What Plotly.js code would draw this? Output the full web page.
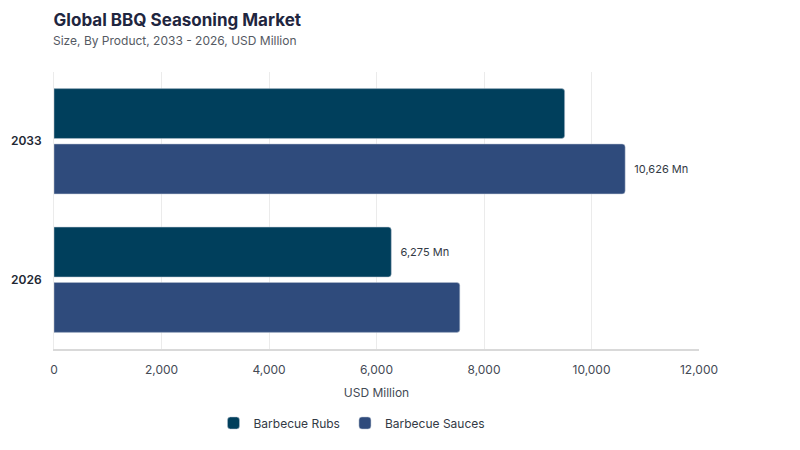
<!DOCTYPE html>
<html>
<head>
<meta charset="utf-8">
<script src="https://cdn.plot.ly/plotly-3.0.1.min.js"></script>
<style>
  body { margin: 0; background: #fff; }
  #chart { width: 800px; height: 450px; }
</style>
</head>
<body>
<div id="chart"></div>
<script>
// values
const years = ["2026", "2033"];
const rubs = [6275, 9500];
const sauces = [7550, 10626];
const rubsLabels = ["6,275 Mn", ""];
const saucesLabels = ["", "10,626 Mn"];
const xTicks = [0, 2000, 4000, 6000, 8000, 10000, 12000];

const FONT = "Inter, 'DejaVu Sans', sans-serif";

// sauces goes first so it sits below rubs in each group
const data = [
    {
        type: "bar",
        orientation: "h",
        name: "Barbecue Sauces",
        y: years,
        x: sauces,
        text: saucesLabels.map(t => t ? "  " + t : t),
        textposition: "outside",
        cliponaxis: false,
        textfont: { family: FONT, size: 11, color: "#333a45" },
        marker: { color: "#2f4b7c", cornerradius: 3, line: { color: "#b8c2d0", width: 0.5 } },
        hoverinfo: "x+name"
    },
    {
        type: "bar",
        orientation: "h",
        name: "Barbecue Rubs",
        y: years,
        x: rubs,
        text: rubsLabels.map(t => t ? "  " + t : t),
        textposition: "outside",
        cliponaxis: false,
        textfont: { family: FONT, size: 11, color: "#333a45" },
        marker: { color: "#003f5c", cornerradius: 3, line: { color: "#b8c2d0", width: 0.5 } },
        hoverinfo: "x+name"
    }
];

const layout = {
    width: 800,
    height: 450,
    margin: { l: 54, r: 101, t: 72, b: 101, autoexpand: false },
    paper_bgcolor: "#ffffff",
    plot_bgcolor: "#ffffff",
    font: { family: FONT, color: "#333a45" },
    barmode: "group",
    bargap: 0.2,
    bargroupgap: 0.1,
    title: {
        text: "<b>Global BBQ Seasoning Market</b>",
        x: 0.067, xanchor: "left",
        y: 0.955, yanchor: "middle",
        font: { family: FONT, size: 17, color: "#1f2640" }
    },
    annotations: [{
        text: "Size, By Product, 2033 - 2026, USD Million",
        xref: "paper", yref: "paper",
        x: -0.005, xanchor: "left",
        y: 1.113, yanchor: "middle",
        showarrow: false,
        font: { family: FONT, size: 12, color: "#555a63" }
    }],
    xaxis: {
        range: [0, 12000],
        tickvals: xTicks,
        tickformat: ",d",
        automargin: false,
        showgrid: true,
        gridcolor: "#ebebeb",
        zeroline: false,
        showline: true,
        linecolor: "#d9d9d9",
        linewidth: 2,
        ticks: "",
        ticklabelstandoff: 9,
        tickfont: { family: FONT, size: 12, color: "#444a55" },
        title: { text: "USD Million", standoff: 12, font: { family: FONT, size: 12, color: "#444a55" } }
    },
    yaxis: {
        type: "category",
        range: [-0.5, 1.5],
        automargin: false,
        showgrid: false,
        zeroline: false,
        showline: true,
        linecolor: "#ebebeb",
        ticks: "",
        ticklabelstandoff: 9,
        tickfont: { family: FONT, size: 12, color: "#222733", weight: 600 }
    },
    showlegend: true,
    legend: {
        orientation: "h",
        traceorder: "reversed",
        x: 0.462, xanchor: "center",
        yref: "container",
        y: 0.06, yanchor: "middle",
        itemwidth: 30,
        font: { family: FONT, size: 12, color: "#333a45" }
    }
};

Plotly.newPlot("chart", data, layout, { displayModeBar: false, staticPlot: true });
</script>
</body>
</html>
